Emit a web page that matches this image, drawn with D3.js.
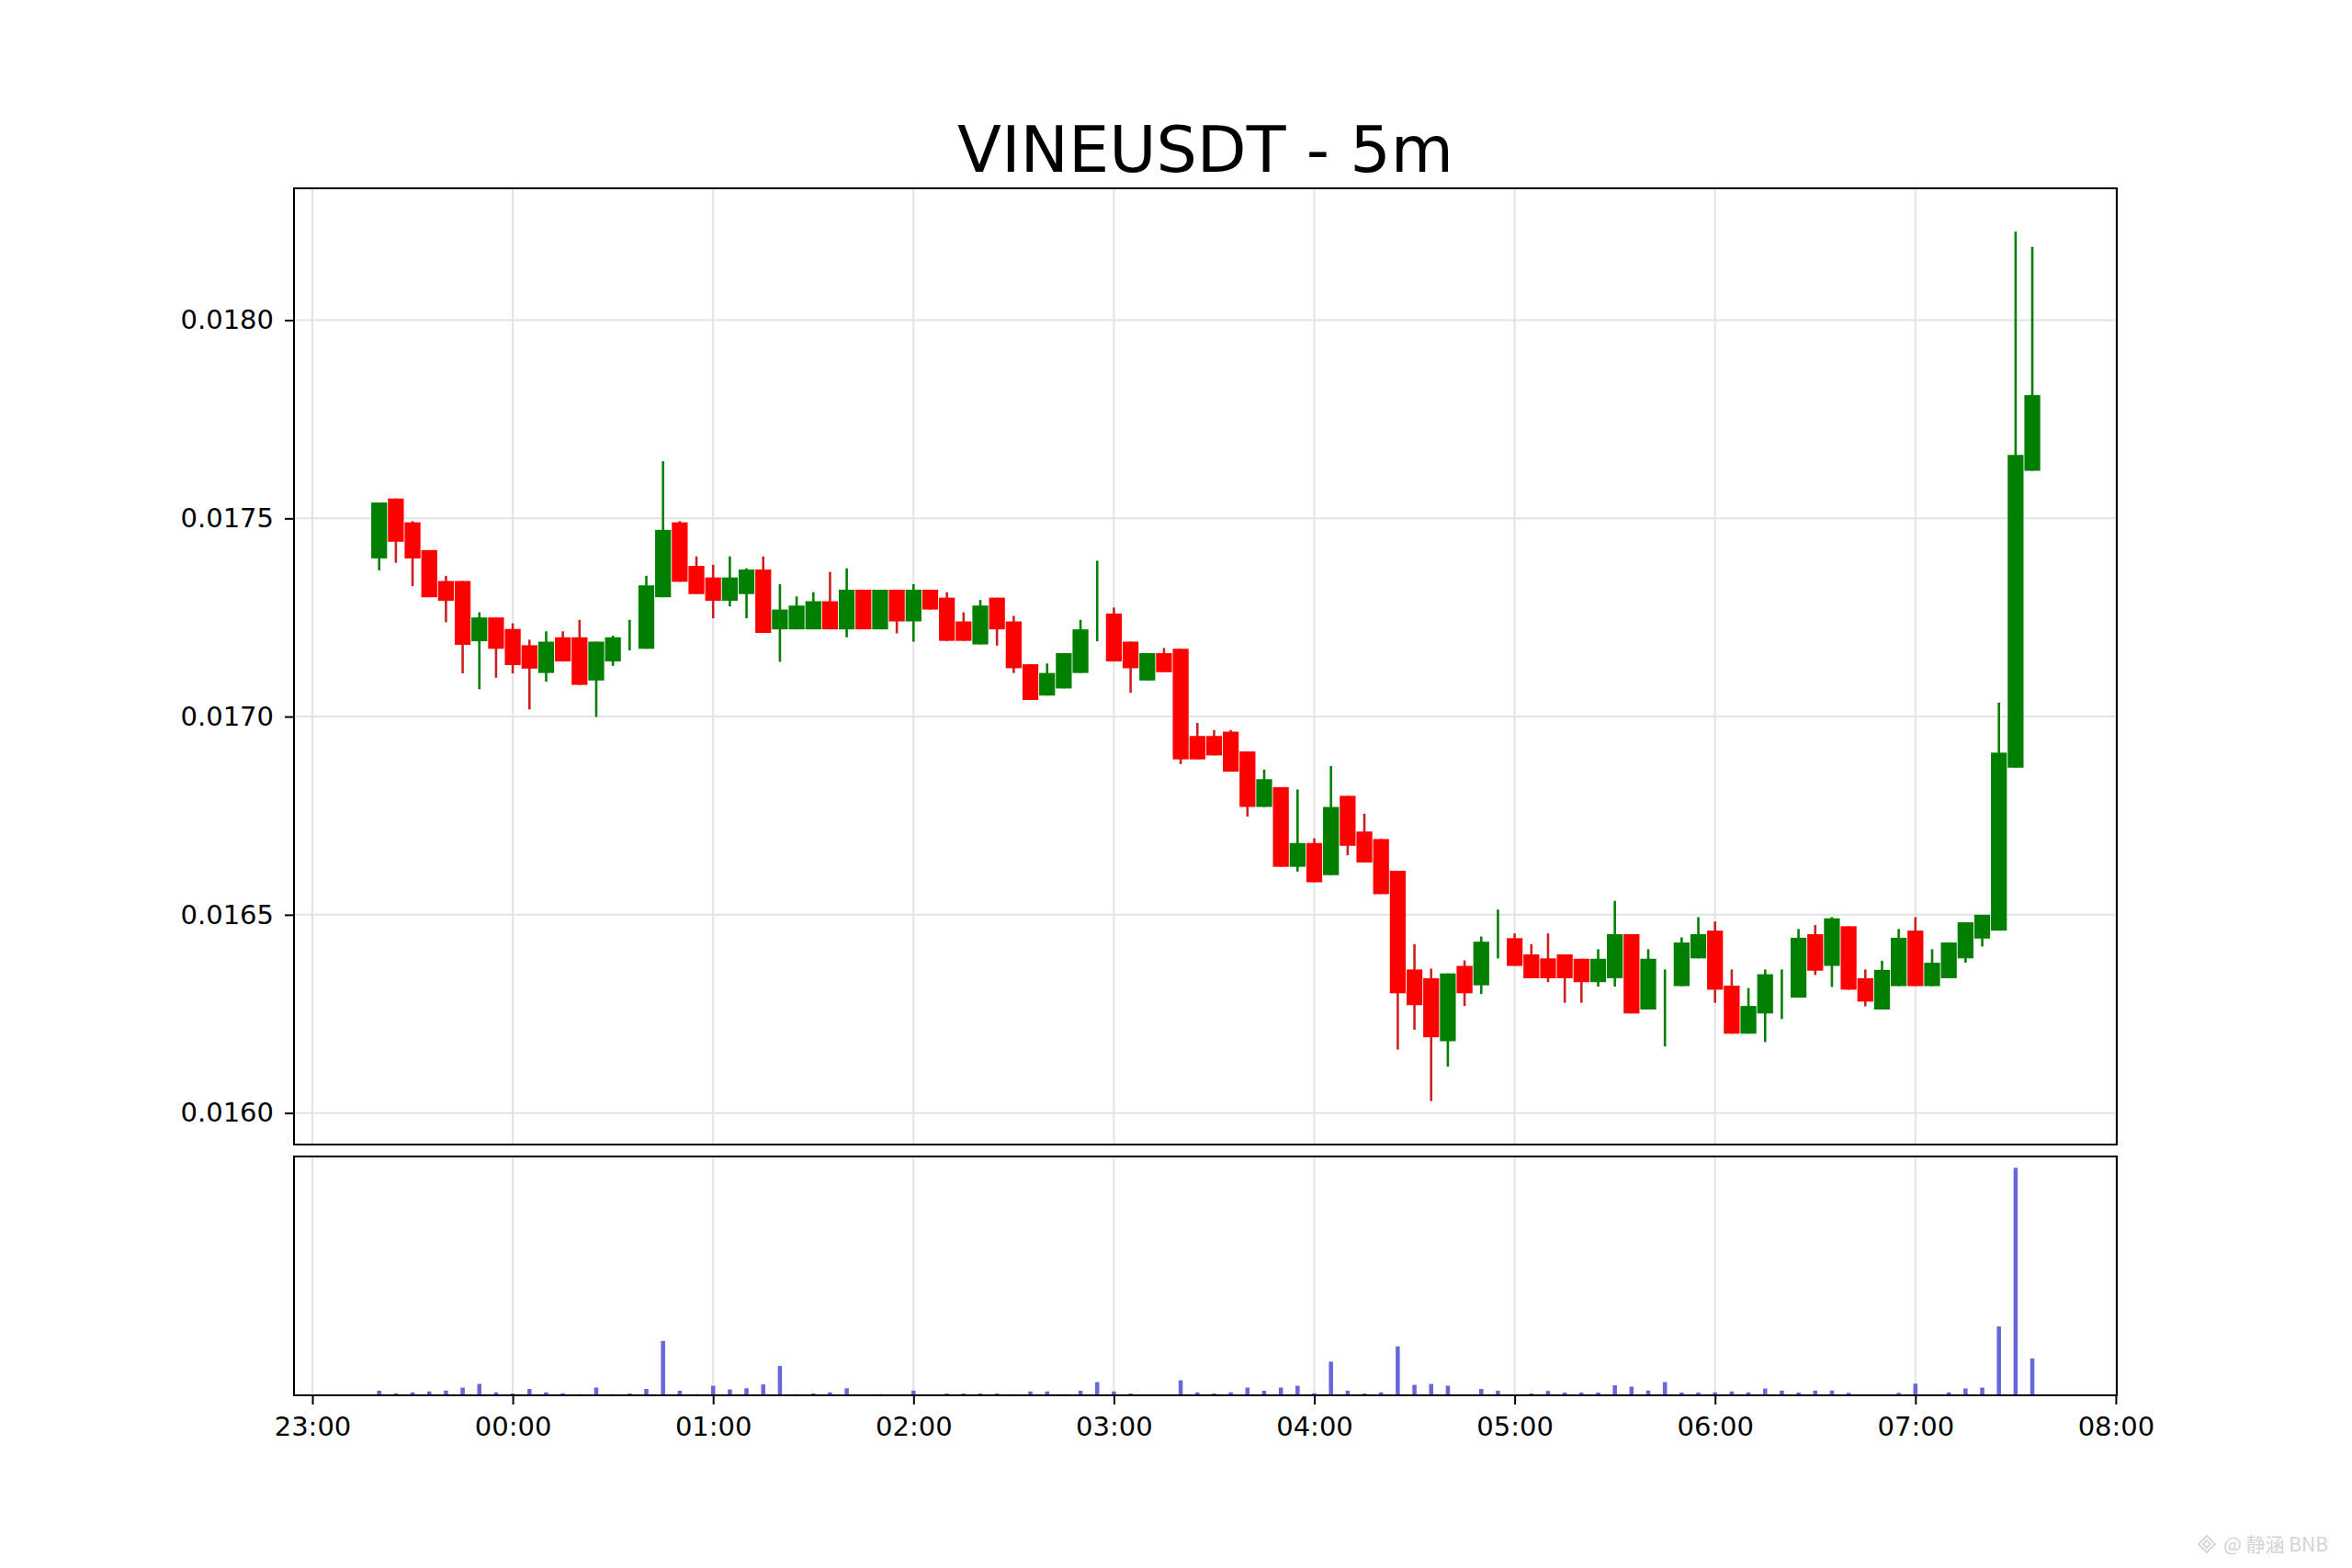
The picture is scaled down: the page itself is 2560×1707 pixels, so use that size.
<!DOCTYPE html>
<html>
<head>
<meta charset="utf-8">
<script src="https://cdn.jsdelivr.net/npm/d3@7"></script>
<style>
  html, body { margin: 0; padding: 0; background: #ffffff; }
  svg { display: block; }
  text { font-family: "DejaVu Sans", "Liberation Sans", sans-serif; }
</style>
</head>
<body>
<svg id="chart" width="2560" height="1707"></svg>
<script>
// ---------------- data ----------------
const times = ["23:20","23:25","23:30","23:35","23:40","23:45","23:50","23:55",
  "00:00","00:05","00:10","00:15","00:20","00:25","00:30","00:35","00:40","00:45","00:50","00:55",
  "01:00","01:05","01:10","01:15","01:20","01:25","01:30","01:35","01:40","01:45","01:50","01:55",
  "02:00","02:05","02:10","02:15","02:20","02:25","02:30","02:35","02:40","02:45","02:50","02:55",
  "03:00","03:05","03:10","03:15","03:20","03:25","03:30","03:35","03:40","03:45","03:50","03:55",
  "04:00","04:05","04:10","04:15","04:20","04:25","04:30","04:35","04:40","04:45","04:50","04:55",
  "05:00","05:05","05:10","05:15","05:20","05:25","05:30","05:35","05:40","05:45","05:50","05:55",
  "06:00","06:05","06:10","06:15","06:20","06:25","06:30","06:35","06:40","06:45","06:50","06:55",
  "07:00","07:05","07:10","07:15","07:20","07:25","07:30","07:35"];
const opens = [0.017399,0.017550,0.017490,0.017420,0.017342,0.017342,0.017190,0.017250,
  0.017221,0.017180,0.017110,0.017200,0.017200,0.017091,0.017139,0.017208,0.017171,0.017301,0.017490,0.017380,
  0.017351,0.017292,0.017309,0.017371,0.017220,0.017220,0.017220,0.017291,0.017220,0.017320,0.017220,0.017320,
  0.017240,0.017320,0.017300,0.017240,0.017182,0.017300,0.017240,0.017132,0.017053,0.017071,0.017110,0.017237,
  0.017260,0.017189,0.017091,0.017160,0.017171,0.016951,0.016951,0.016962,0.016912,0.016772,0.016822,0.016621,
  0.016681,0.016600,0.016800,0.016710,0.016691,0.016611,0.016362,0.016340,0.016181,0.016371,0.016322,0.016438,
  0.016441,0.016400,0.016390,0.016400,0.016389,0.016330,0.016340,0.016451,0.016261,0.016352,0.016320,0.016390,
  0.016460,0.016321,0.016200,0.016251,0.016350,0.016291,0.016451,0.016371,0.016471,0.016340,0.016261,0.016320,
  0.016460,0.016320,0.016340,0.016390,0.016440,0.016460,0.016871,0.017620];
const highs = [0.017540,0.017550,0.017493,0.017420,0.017355,0.017342,0.017263,0.017250,
  0.017235,0.017194,0.017215,0.017215,0.017244,0.017189,0.017204,0.017244,0.017355,0.017644,0.017493,0.017404,
  0.017383,0.017404,0.017374,0.017404,0.017334,0.017303,0.017314,0.017365,0.017374,0.017320,0.017320,0.017320,
  0.017334,0.017320,0.017314,0.017263,0.017294,0.017300,0.017254,0.017132,0.017134,0.017160,0.017244,0.017393,
  0.017275,0.017189,0.017160,0.017173,0.017171,0.016984,0.016966,0.016966,0.016912,0.016866,0.016822,0.016816,
  0.016693,0.016875,0.016800,0.016755,0.016691,0.016611,0.016426,0.016364,0.016352,0.016385,0.016445,0.016513,
  0.016453,0.016426,0.016453,0.016400,0.016389,0.016413,0.016535,0.016451,0.016413,0.016362,0.016443,0.016494,
  0.016483,0.016362,0.016315,0.016362,0.016362,0.016464,0.016474,0.016494,0.016471,0.016362,0.016384,0.016464,
  0.016494,0.016413,0.016430,0.016481,0.016500,0.017035,0.018223,0.018185];
const lows = [0.017369,0.017388,0.017329,0.017301,0.017238,0.017109,0.017069,0.017098,
  0.017109,0.017018,0.017088,0.017139,0.017080,0.016999,0.017128,0.017167,0.017171,0.017301,0.017340,0.017309,
  0.017248,0.017278,0.017248,0.017211,0.017138,0.017220,0.017220,0.017220,0.017200,0.017220,0.017220,0.017210,
  0.017189,0.017270,0.017191,0.017191,0.017182,0.017179,0.017110,0.017042,0.017053,0.017071,0.017110,0.017190,
  0.017139,0.017060,0.017091,0.017112,0.016880,0.016892,0.016902,0.016861,0.016748,0.016772,0.016621,0.016609,
  0.016582,0.016600,0.016650,0.016632,0.016552,0.016160,0.016210,0.016030,0.016117,0.016270,0.016300,0.016390,
  0.016371,0.016340,0.016330,0.016278,0.016278,0.016319,0.016319,0.016251,0.016261,0.016168,0.016320,0.016390,
  0.016278,0.016200,0.016200,0.016179,0.016237,0.016291,0.016348,0.016318,0.016311,0.016269,0.016261,0.016320,
  0.016320,0.016320,0.016340,0.016379,0.016420,0.016460,0.016871,0.017620];
const closes = [0.017540,0.017441,0.017399,0.017301,0.017292,0.017181,0.017250,0.017171,
  0.017130,0.017121,0.017189,0.017139,0.017080,0.017189,0.017200,0.017208,0.017331,0.017471,0.017340,0.017309,
  0.017292,0.017351,0.017371,0.017211,0.017270,0.017280,0.017291,0.017220,0.017320,0.017220,0.017320,0.017240,
  0.017320,0.017270,0.017191,0.017191,0.017280,0.017220,0.017122,0.017042,0.017110,0.017160,0.017220,0.017237,
  0.017139,0.017122,0.017160,0.017112,0.016892,0.016892,0.016902,0.016861,0.016772,0.016842,0.016621,0.016681,
  0.016582,0.016772,0.016674,0.016632,0.016552,0.016302,0.016272,0.016191,0.016352,0.016302,0.016432,0.016438,
  0.016371,0.016340,0.016340,0.016340,0.016330,0.016389,0.016451,0.016251,0.016389,0.016352,0.016430,0.016451,
  0.016311,0.016200,0.016270,0.016350,0.016350,0.016442,0.016359,0.016491,0.016311,0.016281,0.016361,0.016442,
  0.016320,0.016379,0.016430,0.016481,0.016500,0.016909,0.017660,0.017811];
const volumes = [2.0,0.9,1.3,1.7,2.1,3.4,5.0,1.3,
  0.8,2.8,1.3,0.9,0.5,3.4,0.5,0.8,2.8,23.9,2.0,0.5,
  4.2,2.6,3.1,4.8,12.9,0.5,0.8,1.3,3.1,0.2,0.5,0.2,
  2.1,0.3,0.8,0.8,0.8,0.8,0.5,1.7,1.7,0.5,2.0,5.8,
  1.7,0.8,0.2,0.2,6.6,1.3,0.8,1.3,3.4,2.0,3.4,4.2,
  0.9,14.8,2.0,0.8,1.3,21.5,4.6,5.0,4.2,0.2,2.8,2.0,
  0.2,0.8,1.9,1.2,1.2,1.2,4.4,3.8,2.1,5.8,1.2,1.2,
  1.3,1.7,1.3,3.0,2.1,1.2,2.1,2.1,1.1,0.2,0.2,1.1,
  5.1,0.3,1.3,3.0,3.4,30.3,100,16.2];
const yTicks = [0.0160, 0.0165, 0.0170, 0.0175, 0.0180];
const xTickLabels = ["23:00","00:00","01:00","02:00","03:00","04:00","05:00","06:00","07:00","08:00"];
const title = "VINEUSDT - 5m";

// ---------------- helpers ----------------
function toDate(s) {
  const [h, m] = s.split(":").map(Number);
  const day = h >= 12 ? 1 : 2;
  return new Date(Date.UTC(2025, 0, day, h, m));
}
const candles = times.map((t, i) => ({
  t: toDate(t), o: opens[i], h: highs[i], l: lows[i], c: closes[i], v: volumes[i]
}));

// ---------------- layout ----------------
const P = { left: 320, right: 2304, top: 205, bottom: 1246 };
const V = { top: 1259, bottom: 1519 };
const GREEN = "#007f00", RED = "#ff0000", RED_WICK = "#cc2020", VOL = "#6767da";

const svg = d3.select("#chart");
svg.append("rect").attr("width", 2560).attr("height", 1707).attr("fill", "#ffffff");

const x = d3.scaleUtc()
  .domain([new Date(Date.UTC(2025,0,1,22,54,30)), new Date(Date.UTC(2025,0,2,8,0,18))])
  .range([P.left, P.right]);

const lo = d3.min(lows), hi = d3.max(highs), pad = (hi - lo) * 0.05;
const y = d3.scaleLinear().domain([lo - pad, hi + pad]).range([P.bottom, P.top]);
const yv = d3.scaleLinear().domain([0, d3.max(volumes) * 1.05]).range([V.bottom, V.top]);

const xTicks = xTickLabels.map(toDate);
const fiveMin = x(new Date(Date.UTC(2025,0,2,0,5))) - x(new Date(Date.UTC(2025,0,2,0,0)));
const bodyW = fiveMin * 0.95;
const volW = fiveMin * 0.25;

// ---------------- grids ----------------
const grid = svg.append("g").attr("stroke", "#e3e3e3").attr("stroke-width", 2);
xTicks.forEach(d => {
  grid.append("line").attr("x1", x(d)).attr("x2", x(d)).attr("y1", P.top).attr("y2", P.bottom);
  grid.append("line").attr("x1", x(d)).attr("x2", x(d)).attr("y1", V.top).attr("y2", V.bottom);
});
yTicks.forEach(d => {
  grid.append("line").attr("x1", P.left).attr("x2", P.right).attr("y1", y(d)).attr("y2", y(d));
});

// ---------------- candles ----------------
const cg = svg.append("g");
cg.selectAll("line.wick").data(candles).join("line")
  .attr("class", "wick")
  .attr("x1", d => x(d.t)).attr("x2", d => x(d.t))
  .attr("y1", d => y(d.h)).attr("y2", d => y(d.l))
  .attr("stroke", d => d.c >= d.o ? GREEN : RED_WICK)
  .attr("stroke-width", 2.6);
cg.selectAll("rect.body").data(candles).join("rect")
  .attr("class", "body")
  .attr("x", d => x(d.t) - bodyW / 2)
  .attr("width", bodyW)
  .attr("y", d => y(Math.max(d.o, d.c)))
  .attr("height", d => Math.abs(y(d.o) - y(d.c)))
  .attr("fill", d => d.c >= d.o ? GREEN : RED);

// ---------------- volume ----------------
svg.append("g").selectAll("rect").data(candles).join("rect")
  .attr("x", d => x(d.t) - volW / 2)
  .attr("width", volW)
  .attr("y", d => yv(d.v))
  .attr("height", d => yv(0) - yv(d.v))
  .attr("fill", VOL);

// ---------------- axes ----------------
const yAxis = d3.axisLeft(y).tickValues(yTicks).tickFormat(d3.format(".4f")).tickSize(10).tickPadding(12);
const gy = svg.append("g").attr("transform", `translate(${P.left},0)`).call(yAxis);
gy.select(".domain").remove();
gy.selectAll(".tick line").attr("stroke", "#000").attr("stroke-width", 2);
gy.selectAll(".tick text").attr("font-size", 29).attr("fill", "#000")
  .style("font-family", "'DejaVu Sans', sans-serif");

const xAxis = d3.axisBottom(x).tickValues(xTicks).tickFormat(d3.utcFormat("%H:%M")).tickSize(10).tickPadding(13);
const gx = svg.append("g").attr("transform", `translate(0,${V.bottom})`).call(xAxis);
gx.select(".domain").remove();
gx.selectAll(".tick line").attr("stroke", "#000").attr("stroke-width", 2);
gx.selectAll(".tick text").attr("font-size", 29).attr("fill", "#000")
  .style("font-family", "'DejaVu Sans', sans-serif");

// ---------------- frames ----------------
svg.append("rect").attr("x", P.left).attr("y", P.top)
  .attr("width", P.right - P.left).attr("height", P.bottom - P.top)
  .attr("fill", "none").attr("stroke", "#000").attr("stroke-width", 2);
svg.append("rect").attr("x", P.left).attr("y", V.top)
  .attr("width", P.right - P.left).attr("height", V.bottom - V.top)
  .attr("fill", "none").attr("stroke", "#000").attr("stroke-width", 2);

// ---------------- title ----------------
svg.append("text").attr("x", (P.left + P.right) / 2).attr("y", 187)
  .attr("text-anchor", "middle").attr("font-size", 70).attr("fill", "#000")
  .text(title);

// ---------------- watermark ----------------
const wm = svg.append("g").attr("opacity", 0.9);
wm.append("path")
  .attr("d", "M2402,1672 l9,9 l-9,9 l-9,-9 z M2402,1677 l4,4 l-4,4 l-4,-4 z")
  .attr("fill", "none").attr("stroke", "#d4d4d4").attr("stroke-width", 2);
wm.append("text").attr("x", 2420).attr("y", 1689)
  .attr("font-size", 21).attr("fill", "#cfcfcf")
  .style("font-family", "'Noto Sans CJK SC', 'DejaVu Sans', sans-serif")
  .text("@ 静涵 BNB");
</script>
</body>
</html>
